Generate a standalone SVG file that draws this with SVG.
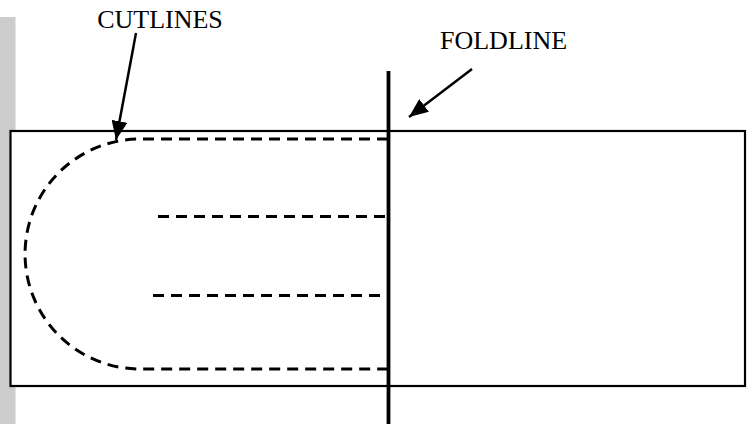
<svg xmlns="http://www.w3.org/2000/svg" width="752" height="424" viewBox="0 0 752 424">
<style>
.lbl{font-family:"Liberation Serif","Times New Roman",serif;font-size:26px;fill:#000}
.cut{fill:none;stroke:#000;stroke-width:3;stroke-dasharray:11 7}
.ptr{fill:none;stroke:#000;stroke-width:2.5}
</style>
<defs>
<marker id="ah" markerUnits="userSpaceOnUse" markerWidth="20" markerHeight="16" refX="19" refY="8" orient="auto">
<path d="M0,0 L19,8 L0,16 Z" fill="#000"/>
</marker>
</defs>
<rect x="0" y="17" width="15.5" height="407" fill="#cccccc"/>
<g id="sheet">
<rect x="10.5" y="131" width="734.5" height="255" fill="#fff" stroke="#000" stroke-width="2.2"/>
</g>
<g id="cutlines-shape">
<path class="cut" d="M388,139 H140 A115,115 0 0 0 140,369 H388"/>
<path class="cut" d="M158,216.5 H388"/>
<path class="cut" d="M153,295.5 H388"/>
</g>
<g id="foldline">
<line x1="388.5" y1="71" x2="388.5" y2="424" stroke="#000" stroke-width="3.8"/>
</g>
<g id="label-cutlines">
<text class="lbl" x="160" y="28" text-anchor="middle">CUTLINES</text>
</g>
<g id="label-foldline">
<text class="lbl" x="440" y="49">FOLDLINE</text>
</g>
<g id="connectors">
<line class="ptr" x1="136" y1="33" x2="116" y2="140" marker-end="url(#ah)"/>
<line class="ptr" x1="472" y1="69" x2="409" y2="117" marker-end="url(#ah)"/>
</g>
</svg>
